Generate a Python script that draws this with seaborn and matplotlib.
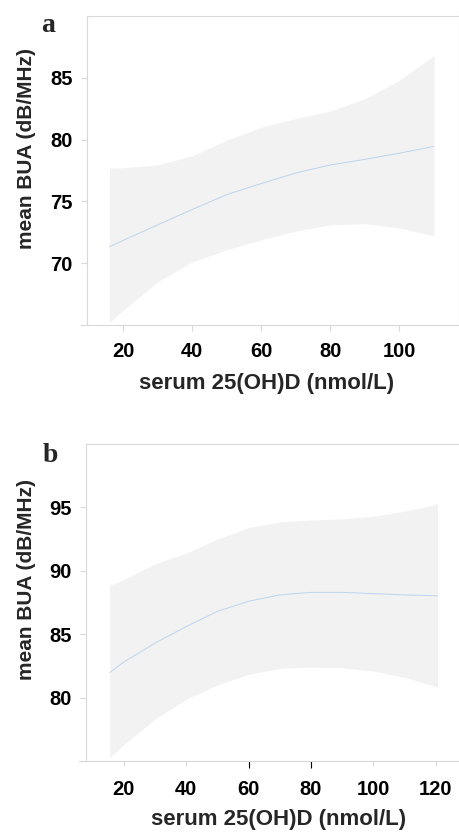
import seaborn as sns
import matplotlib.pyplot as plt

# panel a
xA = [16, 20, 30, 40, 50, 60, 70, 80, 90, 100, 110]
meanA = [71.33, 71.85, 73.1, 74.35, 75.55, 76.45, 77.3, 77.95, 78.4, 78.9, 79.45]
upA = [77.7, 77.72, 77.95, 78.7, 79.95, 81.0, 81.7, 82.3, 83.3, 84.8, 86.8]
lowA = [65.2, 66.2, 68.5, 70.1, 71.1, 71.9, 72.6, 73.1, 73.2, 72.85, 72.2]

# panel b
xB = [15.5, 20, 30, 40, 50, 60, 70, 80, 90, 100, 110, 120.5]
meanB = [81.97, 82.8, 84.3, 85.6, 86.8, 87.6, 88.1, 88.3, 88.3, 88.2, 88.1, 88.03]
upB = [88.87, 89.3, 90.55, 91.4, 92.5, 93.4, 93.85, 94.0, 94.1, 94.3, 94.7, 95.26]
lowB = [75.26, 76.3, 78.3, 79.87, 81.0, 81.84, 82.3, 82.42, 82.35, 82.1, 81.6, 80.84]

ticksA_x = [20, 40, 60, 80, 100]
ticksA_y = [70, 75, 80, 85]
ticksB_x = [20, 40, 60, 80, 100, 120]
ticksB_y = [80, 85, 90, 95]

sns.set_style("white")
plt.rcParams['font.family'] = ['Liberation Sans', 'DejaVu Sans']

gris = "#d9d9d9"
relleno = "#f2f2f2"
azul = "#bcd4ee"

fig = plt.figure(figsize=(4.59, 8.32), dpi=100)
axA = fig.add_axes([87/459, 1-325/832, 371.5/459, 309/832])
axB = fig.add_axes([86/459, 1-761/832, 373/459, 317/832])

def panel(ax, x, m, lo, hi, xt, yt, xlim, ylim):
    ax.fill_between(x, lo, hi, color=relleno, linewidth=0)
    sns.lineplot(x=x, y=m, ax=ax, color=azul, linewidth=0.7)
    ax.set_xlim(*xlim)
    ax.set_ylim(*ylim)
    ax.set_xticks(xt)
    ax.set_yticks(yt)
    for s in ax.spines.values():
        s.set_color(gris)
        s.set_linewidth(0.8)
    ax.tick_params(axis='both', colors=gris, labelcolor='black', labelsize=14.5,
                   length=4.5, width=0.8, direction='out', bottom=True, left=True)
    for lab in ax.get_xticklabels() + ax.get_yticklabels():
        lab.set_fontweight('bold')
    ax.set_xlabel("serum 25(OH)D (nmol/L)", fontsize=16, fontweight='bold')
    ax.set_ylabel("mean BUA (dB/MHz)", fontsize=15, fontweight='bold')

panel(axA, xA, meanA, lowA, upA, ticksA_x, ticksA_y, (9.5, 117.1), (65, 90))
panel(axB, xB, meanB, lowB, upB, ticksB_x, ticksB_y, (7.9, 127.4), (75, 100))

axA.tick_params(axis='x', pad=8)
axA.tick_params(axis='y', pad=6)
axB.tick_params(axis='x', pad=10, length=3.6)
axB.tick_params(axis='y', pad=6)
axB.spines['right'].set_visible(False)

# bottom axis line runs a bit past the left spine
axA.spines['bottom'].set_bounds(7.8, 117.1)
axB.spines['bottom'].set_bounds(5.7, 127.4)

# two darker ticks in panel b
for t in axB.xaxis.get_major_ticks()[2:4]:
    t.tick1line.set_color('black')
    t.tick1line.set_markeredgecolor('black')
    t.tick1line.set_markersize(5)

axA.xaxis.set_label_coords(0.482, -0.155)
axA.yaxis.set_label_coords(-0.137, 0.57)
axB.xaxis.set_label_coords(0.515, -0.15)
axB.yaxis.set_label_coords(-0.134, 0.574)

fig.text(48/459, 1-32/832, "a", fontsize=20, fontweight='bold',
         family=['Liberation Serif', 'DejaVu Serif'], ha='center', va='baseline')
fig.text(50/459, 1-462/832, "b", fontsize=20, fontweight='bold',
         family=['Liberation Serif', 'DejaVu Serif'], ha='center', va='baseline')

plt.savefig("out.png", dpi=100)
